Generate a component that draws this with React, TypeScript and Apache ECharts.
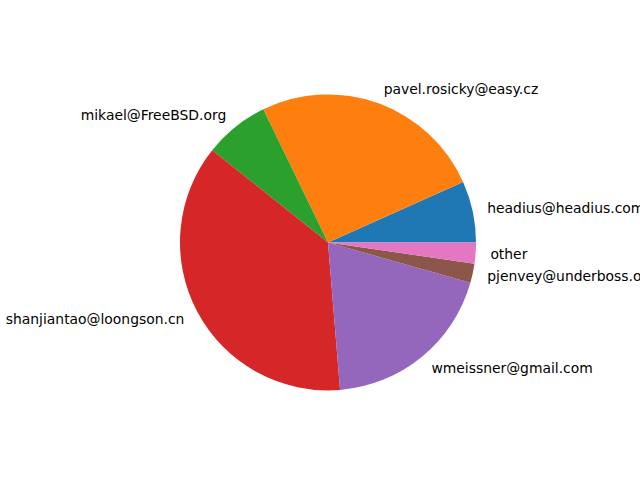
import React, { useEffect, useRef } from "react";
import * as echarts from "echarts";

const names = [
  "headius@headius.com",
  "pavel.rosicky@easy.cz",
  "mikael@FreeBSD.org",
  "shanjiantao@loongson.cn",
  "wmeissner@gmail.com",
  "pjenvey@underboss.org",
  "other",
];
const values = [67, 255, 71, 370, 193, 21, 23];
const colors = ["#1f77b4", "#ff7f0e", "#2ca02c", "#d62728", "#9467bd", "#8c564b", "#e377c2"];

export default function App() {
  const ref = useRef<HTMLDivElement>(null);
  useEffect(() => {
    document.body.style.margin = "0";
    const chart = echarts.init(ref.current!, null, { renderer: "svg" });
    const R = 148;
    chart.setOption({
      animation: false,
      backgroundColor: "#ffffff",
      series: [
        {
          type: "pie",
          center: [328, 242.4],
          radius: R,
          startAngle: 0,
          clockwise: false,
          avoidLabelOverlap: false,
          data: names.map((n, i) => ({ name: n, value: values[i], itemStyle: { color: colors[i] } })),
          label: {
            show: true,
            position: "outside",
            formatter: "{b}",
            color: "#000000",
            fontFamily: "DejaVu Sans",
            fontSize: 13.9,
            distanceToLabelLine: 0,
            overflow: "none",
          },
          labelLine: { show: false, length: R * 0.1, length2: 0 },
          emphasis: { disabled: true },
        },
      ],
    });
    return () => chart.dispose();
  }, []);
  return <div ref={ref} style={{ width: 640, height: 480 }} />;
}
